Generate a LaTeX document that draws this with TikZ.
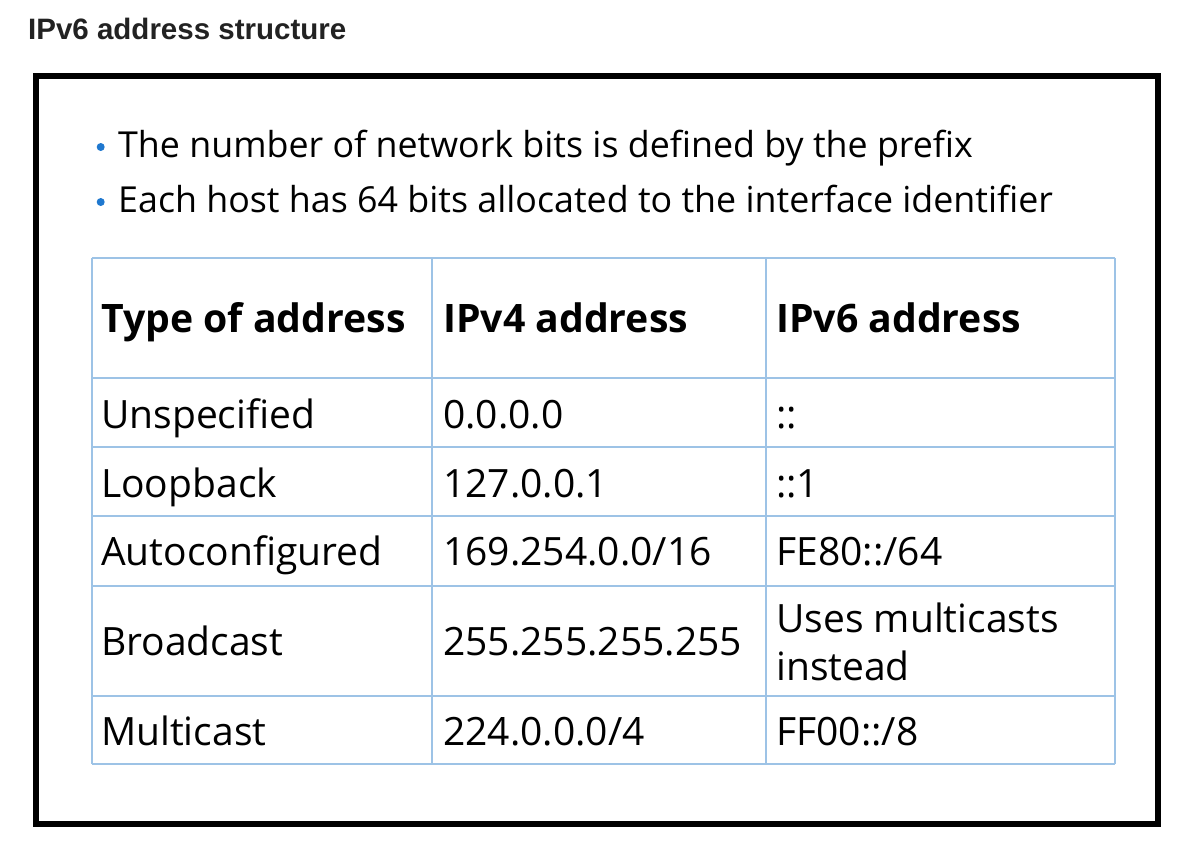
\documentclass[tikz,border=0pt]{standalone}
\usepackage{fontspec}
\setmainfont{Open Sans}
\newfontfamily\titlefont{Liberation Sans}
\definecolor{gridblue}{HTML}{9DC3E6}
\definecolor{bulletblue}{HTML}{1F78CF}
\definecolor{titlegray}{HTML}{222222}
\begin{document}
\begin{tikzpicture}[x=1pt,y=-1pt,
  ttl/.style={anchor=base west,inner sep=0pt,font=\titlefont\bfseries\fontsize{29.5}{34}\selectfont,text=titlegray},
  btxt/.style={anchor=base west,inner sep=0pt,font=\fontsize{35.8}{42}\selectfont},
  bdot/.style={circle,fill=bulletblue,inner sep=0pt,minimum size=8pt},
  hcell/.style={anchor=base west,inner sep=0pt,font=\bfseries\fontsize{39.2}{46}\selectfont},
  cell/.style={anchor=base west,inner sep=0pt,font=\fontsize{39}{46}\selectfont},
  gridline/.style={draw=gridblue,line width=1.5pt},
  frame/.style={draw=black,line width=6pt}]
\useasboundingbox (0,0) rectangle (1189,852);
\fill[white] (0,0) rectangle (1189,852);
\node[ttl] (title) at (28,39) {IPv6 address structure};
\draw[frame] (36,76) rectangle (1158,824);
% bullets
\node[bdot] (d1) at (100.7,147) {};
\node[bdot] (d2) at (100.7,202) {};
\node[btxt] (b1) at (118,157) {The number of network bits is defined by the prefix};
\node[btxt] (b2) at (118,212) {Each host has 64 bits allocated to the interface identifier};
% table grid
\foreach \yy in {258,378,447,516,586,696,764} \draw[gridline] (92,\yy) -- (1115,\yy);
\foreach \xx in {92,432,766,1115} \draw[gridline] (\xx,258) -- (\xx,764);
% header
\node[hcell] (h1) at (101,332) {Type of address};
\node[hcell] (h2) at (443,332) {IPv4 address};
\node[hcell] (h3) at (776,332) {IPv6 address};
% rows
\node[cell] (r1a) at (101,428) {Unspecified};
\node[cell] (r1b) at (443,428) {0.0.0.0};
\node[cell] (r1c) at (776,428) {::};
\node[cell] (r2a) at (101,497) {Loopback};
\node[cell] (r2b) at (443,497) {127.0.0.1};
\node[cell] (r2c) at (776,497) {::1};
\node[cell] (r3a) at (101,565) {Autoconfigured};
\node[cell] (r3b) at (443,565) {169.254.0.0/16};
\node[cell] (r3c) at (776,565) {FE80::/64};
\node[cell] (r4a) at (101,655) {Broadcast};
\node[cell] (r4b) at (443,655) {255.255.255.255};
\node[cell] (r4c) at (776,632) {Uses multicasts};
\node[cell] (r4d) at (776,680) {instead};
\node[cell] (r5a) at (101,745) {Multicast};
\node[cell] (r5b) at (443,745) {224.0.0.0/4};
\node[cell] (r5c) at (776,745) {FF00::/8};
\end{tikzpicture}
\end{document}
